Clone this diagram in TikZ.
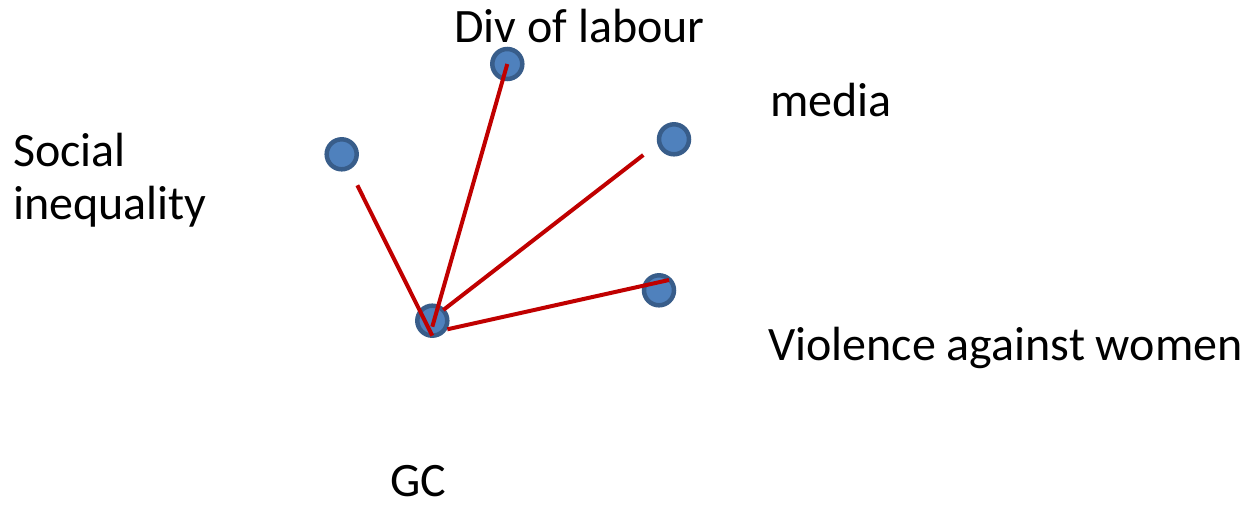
\documentclass[tikz,border=0pt]{standalone}
\usepackage{fontspec}
\setmainfont{Carlito}
\definecolor{dotfill}{HTML}{4F81BD}
\definecolor{dotline}{HTML}{385D8A}
\definecolor{linkred}{HTML}{C00000}
\begin{document}
\begin{tikzpicture}[x=1pt,y=-1pt,
  dot/.style={circle,fill=dotfill,draw=dotline,line width=4.5pt,minimum size=30pt,inner sep=0pt},
  link/.style={draw=linkred,line width=4pt},
  lbl/.style={anchor=base west,inner sep=0pt,font=\fontsize{48}{56}\selectfont}]
\useasboundingbox (0,0) rectangle (1248,505);
% labels
\node[lbl] (social) at (13,166.7) {Social};
\node[lbl] (inequality) at (13,220) {inequality};
\node[lbl] (div) at (454,42.3) {Div of labour};
\node[lbl] (media) at (770,116.7) {media};
\node[lbl] (violence) at (768,360) {Violence against women};
\node[lbl,text depth=0pt] (gclabel) at (390,496.7) {GC};
% dots
\node[dot] (dsocial) at (341.7,154.3) {};
\node[dot] (ddiv) at (507.3,64) {};
\node[dot] (dmedia) at (674,139.3) {};
\node[dot] (dviolence) at (659,290.3) {};
\node[dot] (dgc) at (432.3,320.7) {};
% free ends of the links
\coordinate (s1) at (357.3,185.3);
\coordinate (s2) at (432.3,335.7);
\coordinate (d2) at (432.3,326.7);
\coordinate (m1) at (643.3,155);
\coordinate (m2) at (443.3,310);
\coordinate (v1) at (669,280);
\coordinate (v2) at (447.3,329.3);
% links
\draw[link] (s1) -- (s2);
\draw[link] (ddiv.center) -- (d2);
\draw[link] (m1) -- (m2);
\draw[link] (v1) -- (v2);
\end{tikzpicture}
\end{document}
